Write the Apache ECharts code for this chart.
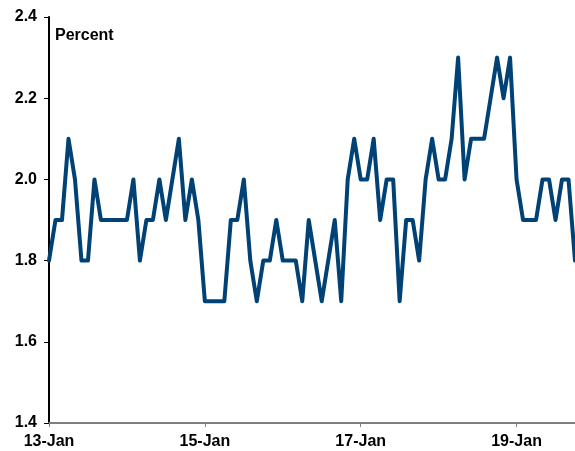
<!DOCTYPE html>
<html>
<head>
<meta charset="utf-8">
<style>
  html, body { margin: 0; padding: 0; background: #fff; }
  #chart { width: 575px; height: 451px; }
</style>
<script src="https://cdn.jsdelivr.net/npm/echarts@6/dist/echarts.min.js"></script>
</head>
<body>
<div id="chart"></div>
<script>
// Monthly series, January 2013 through October 2019
const startYear = 2013;
const monthNames = ['Jan','Feb','Mar','Apr','May','Jun','Jul','Aug','Sep','Oct','Nov','Dec'];

const values = [
  1.8, 1.9, 1.9, 2.1, 2.0, 1.8, 1.8, 2.0, 1.9, 1.9, 1.9, 1.9,
  1.9, 2.0, 1.8, 1.9, 1.9, 2.0, 1.9, 2.0, 2.1, 1.9, 2.0, 1.9,
  1.7, 1.7, 1.7, 1.7, 1.9, 1.9, 2.0, 1.8, 1.7, 1.8, 1.8, 1.9,
  1.8, 1.8, 1.8, 1.7, 1.9, 1.8, 1.7, 1.8, 1.9, 1.7, 2.0, 2.1,
  2.0, 2.0, 2.1, 1.9, 2.0, 2.0, 1.7, 1.9, 1.9, 1.8, 2.0, 2.1,
  2.0, 2.0, 2.1, 2.3, 2.0, 2.1, 2.1, 2.1, 2.2, 2.3, 2.2, 2.3,
  2.0, 1.9, 1.9, 1.9, 2.0, 2.0, 1.9, 2.0, 2.0, 1.8
];

// Category labels in "YY-Mon" form
const categories = values.map((_, i) => {
  const y = startYear + Math.floor(i / 12);
  return String(y).slice(2) + '-' + monthNames[i % 12];
});

const yTicks = [1.4, 1.6, 1.8, 2.0, 2.2, 2.4];

const font = 'Liberation Sans, Arial, sans-serif';
const chart = echarts.init(document.getElementById('chart'), null, { renderer: 'canvas' });

chart.setOption({
  animation: false,
  backgroundColor: '#ffffff',
  grid: { left: 49, right: 0, top: 17, bottom: 28, containLabel: false },
  graphic: [{
    type: 'text',
    left: 55,
    top: 28,
    style: { text: 'Percent', font: 'bold 16px ' + font, fill: '#000' }
  }],
  xAxis: {
    type: 'category',
    data: categories,
    boundaryGap: false,
    axisLine: { lineStyle: { color: '#7f7f7f', width: 2 } },
    axisTick: { show: true, interval: 23, length: 4, lineStyle: { color: '#7f7f7f', width: 1 } },
    axisLabel: {
      interval: 23,
      margin: 11,
      color: '#000',
      fontFamily: font,
      fontWeight: 'bold',
      fontSize: 16
    },
    splitLine: { show: false }
  },
  yAxis: {
    type: 'value',
    min: yTicks[0],
    max: yTicks[yTicks.length - 1],
    interval: 0.2,
    axisLine: { show: true, lineStyle: { color: '#000', width: 2 } },
    axisTick: { show: true, inside: false, length: 5, lineStyle: { color: '#000', width: 1 } },
    axisLabel: {
      margin: 12,
      color: '#000',
      fontFamily: font,
      fontWeight: 'bold',
      fontSize: 16,
      formatter: v => v.toFixed(1)
    },
    splitLine: { show: false }
  },
  series: [{
    type: 'line',
    data: values,
    symbol: 'none',
    smooth: false,
    clip: false,
    lineStyle: { color: '#004275', width: 4, join: 'round', cap: 'round' }
  }]
});
</script>
</body>
</html>
